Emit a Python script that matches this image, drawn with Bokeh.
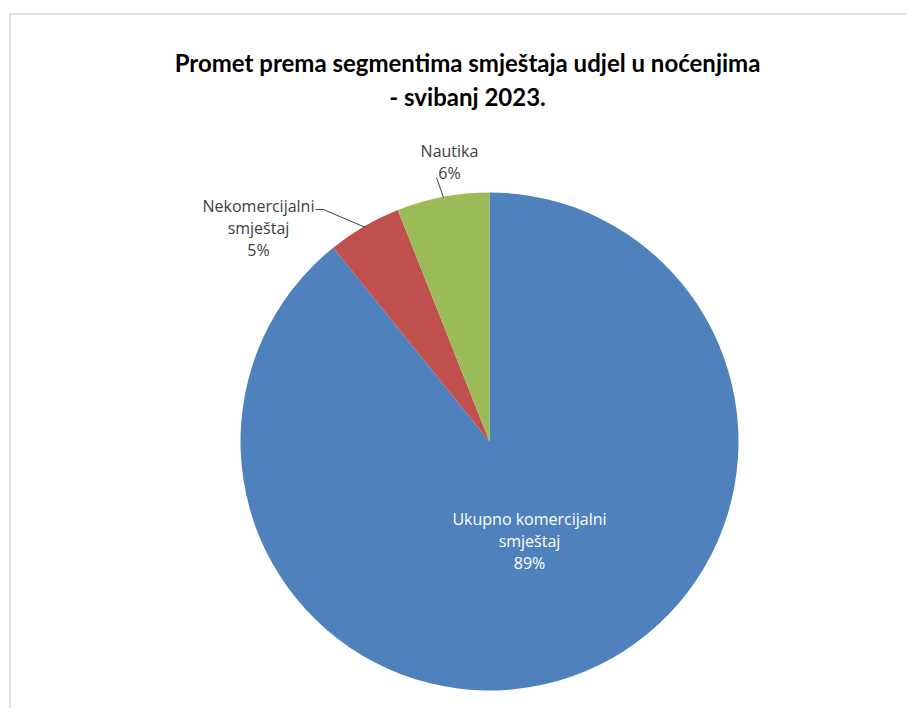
import numpy as np
from bokeh.plotting import figure
from bokeh.models import Range1d
from bokeh.core.properties import value
from bokeh.embed import file_html
from bokeh.resources import INLINE

title_lines = ["Promet prema segmentima smještaja udjel u noćenjima", "- svibanj 2023."]
categories = ["Ukupno komercijalni smještaj", "Nekomercijalni smještaj", "Nautika"]
label_lines = [["Ukupno komercijalni", "smještaj"], ["Nekomercijalni", "smještaj"], ["Nautika"]]
shares = [89.2, 4.8, 6.0]
colors = ["#4F81BD", "#C0504D", "#9BBB59"]

W, H = 907, 708
p = figure(width=W, height=H, output_backend="svg", toolbar_location=None,
           x_range=Range1d(0, W), y_range=Range1d(0, H), min_border=0)
p.axis.visible = False
p.grid.visible = False
p.outline_line_color = None
p.background_fill_color = "white"
p.border_fill_color = "white"

def py(y):
    return H - y

# chart border (light gray, top and left visible)
p.line([9.5, 9.5, 930], [py(720), py(13.5), py(13.5)], line_color="#D9D9D9", line_width=1.5)

# title
p.text(x=[467, 467], y=[py(62), py(96)], text=title_lines, text_align="center",
       text_baseline="middle", text_font=value("Lato"), text_font_style="bold",
       text_font_size="24px", text_color="black")

# pie
cx, cy, r = 489, py(441), 249
vals = np.array(shares, dtype=float)
frac = vals / vals.sum()
cum = np.concatenate([[0], np.cumsum(frac)])
starts = np.pi / 2 - 2 * np.pi * cum[:-1]
ends = np.pi / 2 - 2 * np.pi * cum[1:]
p.wedge(x=[cx] * 3, y=[cy] * 3, radius=r, start_angle=list(starts), end_angle=list(ends),
        direction="clock", fill_color=colors, line_color=None)

# labels
pct = [f"{round(v)}%" for v in shares]
label_pos = [(529, 518, "white"), (258, 205, "#404040"), (449, 150, "#404040")]
for lines, pc, (lx, ly, col) in zip(label_lines, pct, label_pos):
    texts = lines + [pc]
    ys = [py(ly + 22 * k) for k in range(len(texts))]
    p.text(x=[lx] * len(texts), y=ys, text=texts, text_align="center",
           text_baseline="middle", text_font=value("Open Sans"),
           text_font_size="16px", text_color=col)

# leader lines
p.line([315, 323, 365], [py(209), py(209), py(227)], line_color="#404040", line_width=1)
p.line([436, 443], [py(177), py(197)], line_color="#404040", line_width=1)

open("out.html", "w").write(file_html(p, INLINE))
